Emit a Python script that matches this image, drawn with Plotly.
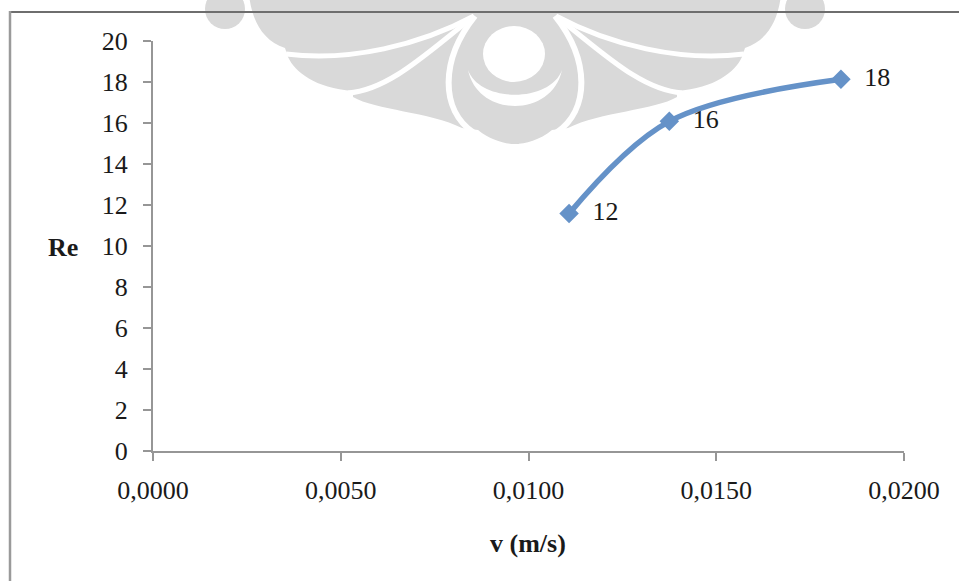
import plotly.graph_objects as go

# Flow velocity (m/s) and the resulting Reynolds number
velocity = [0.01108, 0.01375, 0.01832]
reynolds = [11.58, 16.08, 18.13]

x_ticks = [0.0, 0.005, 0.010, 0.015, 0.020]
y_ticks = [0, 2, 4, 6, 8, 10, 12, 14, 16, 18, 20]

x_title = "v (m/s)"
y_title = "Re"

# Canvas size and plot-area edges (pixels)
W, H = 959, 581
LEFT, RIGHT, TOP, BOTTOM = 153, 904, 41, 451

FONT = "Liberation Serif, Times New Roman, serif"
TEXT = "#1a1a1a"
BLUE = "#6592c8"
AXIS = "#969696"
MARK_GRAY = "#d9d9d9"


def px(x):
    return x / W


def py(y):
    return 1 - y / H


def path(segments, mirror=False):
    parts = []
    for cmd, pts in segments:
        if mirror:
            pts = [(1030 - x, y) for x, y in pts]
        coords = " ".join(f"{px(x):.5f},{py(y):.5f}" for x, y in pts)
        parts.append(f"{cmd}{coords}" if pts else cmd)
    return " ".join(parts)


def filled(d, color):
    return dict(type="path", path=d, xref="paper", yref="paper",
                fillcolor=color, line=dict(width=0), layer="below")


def stroke(d, color, width):
    return dict(type="path", path=d, xref="paper", yref="paper",
                fillcolor="rgba(0,0,0,0)", line=dict(color=color, width=width),
                layer="below")


def ellipse(cx, cy, rx, ry, color):
    return dict(type="circle", xref="paper", yref="paper",
                x0=px(cx - rx), x1=px(cx + rx), y0=py(cy + ry), y1=py(cy - ry),
                fillcolor=color, line=dict(width=0), layer="below")


# Background ornament: left half outline, mirrored about x = 515
silhouette = [
    ("M", [(249, -5)]),
    ("C", [(252, 20), (262, 40), (285, 48)]),
    ("L", [(288, 57)]),
    ("C", [(295, 72), (315, 88), (353, 91)]),
    ("L", [(353, 97)]),
    ("C", [(375, 110), (430, 112), (462, 128)]),
    ("L", [(478, 130)]),
    ("C", [(490, 140), (505, 144), (515, 144)]),
    ("L", [(519, 144)]),
    ("L", [(519, -5)]),
    ("Z", []),
]
gap_upper = [("M", [(286, 54)]), ("C", [(350, 62), (420, 45), (474, 16)])]
gap_middle = [("M", [(348, 93)]), ("C", [(390, 90), (430, 50), (472, 18)])]
gap_inner = [("M", [(475, 16)]), ("C", [(440, 60), (440, 110), (474, 133)])]
crescent = [
    ("M", [(468, 70)]),
    ("C", [(478, 118), (552, 118), (562, 70)]),
    ("C", [(550, 103), (480, 103), (468, 70)]),
    ("Z", []),
]

shapes = []
for m in (False, True):
    shapes.append(filled(path(silhouette, m), MARK_GRAY))
shapes.append(ellipse(225, 9, 20, 20, MARK_GRAY))
shapes.append(ellipse(805, 9, 20, 20, MARK_GRAY))
for m in (False, True):
    shapes.append(stroke(path(gap_upper, m), "white", 5))
    shapes.append(stroke(path(gap_middle, m), "white", 5))
    shapes.append(stroke(path(gap_inner, m), "white", 6))
shapes.append(ellipse(514, 54, 31, 28, "white"))
shapes.append(filled(path(crescent), "white"))

fig = go.Figure()

# Chart frame, drawn on a hidden full-canvas pixel axis pair
fig.add_trace(go.Scatter(
    x=[10, 970], y=[12, 12], mode="lines", xaxis="x2", yaxis="y2",
    line=dict(color="#6e6e6e", width=2), hoverinfo="skip", showlegend=False,
))
fig.add_trace(go.Scatter(
    x=[10, 10], y=[11, 600], mode="lines", xaxis="x2", yaxis="y2",
    line=dict(color="#9a9a9a", width=2.5), hoverinfo="skip", showlegend=False,
))

fig.add_trace(go.Scatter(
    x=velocity, y=reynolds,
    mode="lines+markers+text",
    line=dict(color=BLUE, width=5.5, shape="spline", smoothing=1),
    marker=dict(symbol="diamond", size=15, color=BLUE, line=dict(width=0)),
    texttemplate="\u00a0\u00a0%{y:.0f}",
    textposition="middle right",
    textfont=dict(family=FONT, size=26, color=TEXT),
    cliponaxis=False,
    hoverinfo="skip",
    showlegend=False,
))

axis_common = dict(
    showgrid=False, zeroline=False, showline=True,
    linecolor=AXIS, linewidth=2,
    ticks="outside", ticklen=8, tickwidth=2, tickcolor=AXIS,
    tickfont=dict(family=FONT, size=26, color=TEXT),
    fixedrange=True, automargin=False,
)

fig.update_layout(
    width=W, height=H,
    margin=dict(l=0, r=0, t=0, b=0),
    paper_bgcolor="white",
    plot_bgcolor="rgba(0,0,0,0)",
    separators=",.",
    showlegend=False,
    shapes=shapes,
    xaxis=dict(range=[0, 0.02], tickvals=x_ticks, tickformat=".4f",
               ticklabelstandoff=7, domain=[px(LEFT), px(RIGHT)],
               anchor="y", **axis_common),
    yaxis=dict(range=[0, 20], tickvals=y_ticks,
               ticklabelstandoff=10, domain=[py(BOTTOM), py(TOP)],
               anchor="x", **axis_common),
    xaxis2=dict(range=[0, W], domain=[0, 1], anchor="y2", visible=False,
                fixedrange=True),
    yaxis2=dict(range=[H, 0], domain=[0, 1], anchor="x2", visible=False,
                fixedrange=True),
    annotations=[
        dict(text=f"<b>{y_title}</b>", xref="paper", yref="paper",
             x=px(63), y=py(248), xanchor="center", yanchor="middle",
             showarrow=False, font=dict(family=FONT, size=26, color=TEXT)),
        dict(text=f"<b>{x_title}</b>", xref="paper", yref="paper",
             x=px(528), y=py(543), xanchor="center", yanchor="middle",
             showarrow=False, font=dict(family=FONT, size=26, color=TEXT)),
    ],
)

fig.write_html("out.html", config={"displayModeBar": False})
